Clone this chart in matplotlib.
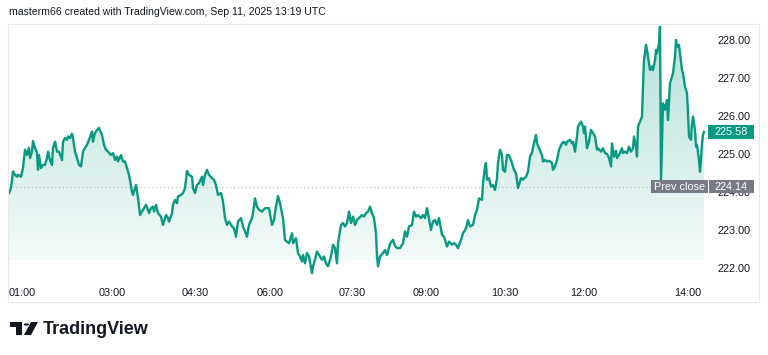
#!/usr/bin/env python3
"""
Intraday area chart, TradingView style (Sep 11, 2025 session).
"""

import numpy as np
import matplotlib
matplotlib.use('Agg')
import matplotlib.pyplot as plt
from matplotlib.patches import Polygon, Rectangle, Circle
from matplotlib.colors import LinearSegmentedColormap
from matplotlib import transforms

plt.rcParams['font.family'] = ['Liberation Sans', 'DejaVu Sans']

# ---- data (bar position, price) ----
bar = [
    9, 11, 13, 15, 17, 18, 21, 23, 25, 27,
    29, 30, 32, 33, 35, 37, 38, 39, 41, 43,
    45, 47, 48, 50, 52, 53, 55, 57, 59, 62,
    63, 65, 67, 68, 70, 72, 73, 75, 77, 79,
    81, 83, 85, 87, 89, 92, 93, 95, 97, 99,
    102, 104, 106, 108, 111, 113, 115, 117, 118, 121,
    123, 125, 127, 129, 132, 133, 136, 138, 140,
    142, 144, 146, 148, 149, 151, 153, 154, 156, 158,
    161, 163, 166, 168, 169, 172, 173, 175, 177, 178,
    181, 183, 185, 187, 189, 192, 193, 195, 197, 199,
    202, 203, 205, 207, 209, 212, 214, 216, 218, 221,
    223, 225, 227, 229, 232, 234, 236, 238, 241, 243,
    245, 247, 249, 252, 253, 255, 257, 259, 262, 265,
    269,
    272, 274, 276, 278, 280, 283, 285, 287, 289, 292,
    293, 296, 298, 300, 302, 303, 305, 307, 309, 312,
    313, 315, 317, 319, 322, 324, 326, 328, 331, 333,
    335, 337, 338, 341, 343, 345, 347, 349, 351, 353,
    355, 357, 359, 362, 364, 366, 368, 370, 372, 374,
    376, 377, 378, 380, 383, 385, 387, 390, 393, 395,
    397, 400,
    403, 405, 407, 409, 412, 414, 416, 418, 421, 423,
    425, 427, 428, 431, 433, 435, 437, 439, 442, 444,
    447, 449, 452, 454, 456, 458, 461, 463, 466, 468,
    470, 473, 475, 477, 479, 482, 483, 485, 486, 487,
    489, 491, 493, 495, 497, 498, 500, 502, 503, 505,
    507, 509, 512, 514, 516, 518, 521, 523, 526, 528,
    530,
    532, 534, 536, 537, 539, 542, 543, 545, 547, 549,
    552, 553, 555, 557, 559, 562, 564, 566, 567, 570,
    572, 573, 575, 577, 578, 581, 583, 584, 585, 587,
    589, 591, 593, 595, 597, 598, 601, 603, 605, 607,
    609, 611, 612, 614, 616, 617, 619, 622, 623, 625,
    627, 629, 631, 633, 634, 636, 637, 638, 640, 642,
    643, 644, 645, 646, 647, 649, 650, 652, 653, 655,
    656, 657, 659, 660, 661, 663, 665, 667, 668, 670,
    672, 673, 675, 676, 677, 679, 680, 682, 683, 685,
    687, 688, 689, 691, 692, 693, 695, 696, 697, 699,
    700, 701, 702, 703, 704,
]
price = [
    223.97, 224.11, 224.54, 224.45, 224.40, 224.45, 224.40, 224.63, 225.11, 224.97,
    225.16, 224.89, 225.06, 225.34, 225.16, 225.03, 224.58, 224.97, 224.63, 224.71,
    224.71, 224.89, 225.06, 224.84, 224.71, 225.16, 225.32, 225.06, 225.06, 224.84,
    225.32, 225.42, 225.37, 225.46, 225.42, 225.53, 225.42, 225.06, 224.89, 224.71,
    224.67, 225.06, 225.16, 225.24, 225.37, 225.59, 225.32, 225.55, 225.63, 225.68,
    225.50, 225.24, 225.11, 225.06, 224.97, 225.02, 224.84, 224.93, 224.80, 224.97,
    224.80, 224.80, 224.62, 224.45, 224.01, 223.92, 224.18, 223.84, 223.39,
    223.48, 223.57, 223.66, 223.53, 223.44, 223.57, 223.61, 223.48, 223.66, 223.44,
    223.35, 223.13, 223.39, 223.31, 223.22, 223.44, 223.66, 223.79, 223.70, 223.88,
    223.92, 223.97, 224.10, 224.55, 224.45, 224.40, 224.10, 223.97, 224.18, 224.23,
    224.40, 224.18, 224.45, 224.58, 224.45, 224.36, 224.32, 224.18, 223.92, 223.97,
    223.75, 223.31, 223.13, 223.22, 223.09, 223.04, 222.82, 223.22, 223.31, 223.09,
    222.96, 222.82, 223.13, 223.31, 223.44, 223.83, 223.61, 223.53, 223.48, 223.57,
    223.57,
    223.13, 223.26, 223.61, 223.89, 223.70, 223.31, 222.74, 222.69, 222.65, 222.91,
    222.65, 222.78, 222.39, 222.30, 222.17, 222.34, 222.12, 222.39, 222.30, 221.86,
    222.04, 222.21, 222.43, 222.34, 222.21, 222.30, 222.12, 222.04, 222.30, 222.61,
    222.52, 222.12, 222.65, 223.13, 223.18, 223.09, 223.18, 223.48, 223.18, 223.35,
    223.13, 223.26, 223.31, 223.39, 223.35, 223.44, 223.48, 223.61, 223.44, 223.31,
    222.91, 222.30, 222.04, 222.30, 222.39, 222.47, 222.34, 222.63, 222.74, 222.58,
    222.52, 222.52,
    222.65, 222.96, 222.82, 223.09, 223.13, 223.48, 223.35, 223.39, 223.31, 223.39,
    223.31, 223.57, 223.44, 223.00, 223.22, 223.26, 223.13, 223.31, 222.87, 222.82,
    222.56, 222.69, 222.61, 222.65, 222.61, 222.52, 222.74, 222.91, 223.04, 223.26,
    223.09, 223.13, 223.39, 223.53, 223.83, 223.79, 224.23, 224.67, 224.76, 224.32,
    224.36, 224.14, 224.18, 224.05, 224.36, 224.76, 225.11, 224.97, 224.58, 224.53,
    224.97, 224.97, 224.76, 224.58, 224.49, 224.10, 224.36, 224.32, 224.40, 224.53,
    224.93,
    225.03, 225.29, 225.50, 225.28, 225.15, 224.97, 224.80, 224.84, 224.80, 224.82,
    224.76, 224.58, 224.67, 224.84, 225.11, 225.28, 225.32, 225.24, 225.32, 225.37,
    225.28, 225.32, 225.06, 225.46, 225.72, 225.85, 225.72, 225.55, 225.72, 225.15,
    225.32, 225.63, 225.55, 225.46, 225.11, 225.15, 225.06, 225.15, 225.02, 225.00,
    224.89, 224.67, 225.28, 224.93, 225.08, 224.89, 224.97, 225.15, 225.02, 225.06,
    225.02, 225.19, 225.06, 225.15, 225.46, 225.19, 224.93, 225.72, 225.85, 225.98,
    226.77, 227.47, 227.65, 227.87, 227.74, 227.39, 227.21, 227.30, 227.21, 227.47,
    227.74, 227.65, 227.91, 228.35, 224.27, 226.33, 226.16, 226.42, 225.89, 226.86,
    227.03, 227.12, 227.56, 228.00, 227.82, 227.87, 227.65, 227.21, 227.12, 226.77,
    226.60, 226.07, 225.46, 225.37, 225.81, 225.98, 225.63, 225.19, 225.24, 224.84,
    224.53, 224.84, 225.28, 225.50, 225.58,
]
assert len(bar) == len(price)

prev_close = 224.14
last_price = 225.58
fill_base = 222.2

time_ticks = [22, 112, 195, 270, 352, 426, 505, 584, 688]
time_labels = ['01:00', '03:00', '04:30', '06:00', '07:30', '09:00',
               '10:30', '12:00', '14:00']
price_ticks = [222, 223, 224, 225, 226, 227, 228]

header = 'masterm66 created with TradingView.com, Sep 11, 2025 13:19 UTC'

# ---- style ----
W, H = 768, 355
GREEN = '#089981'
GREY = '#787b86'
TEXT = '#131722'


def fx(x):
    return x / W


def fy(y):
    return 1 - y / H


fig = plt.figure(figsize=(W / 100, H / 100), dpi=100)
fig.patch.set_facecolor('white')
ax = fig.add_axes([fx(8), fy(280), fx(712 - 8), (280 - 24) / H])

# gradient area under the line
verts = [(bar[0], fill_base)] + list(zip(bar, price)) + [(bar[-1], fill_base)]
area = Polygon(verts, closed=True, facecolor='none', edgecolor='none')
ax.add_patch(area)
cmap = LinearSegmentedColormap.from_list(
    'tvfill', [(8 / 255, 153 / 255, 129 / 255, 0.05),
               (8 / 255, 153 / 255, 129 / 255, 0.30)])
grad = np.linspace(0, 1, 256).reshape(-1, 1)
im = ax.imshow(grad, extent=[bar[0], bar[-1], fill_base, max(price)],
               origin='lower', aspect='auto', cmap=cmap, zorder=1)
im.set_clip_path(area)

ax.plot(bar, price, color=GREEN, lw=1.7, zorder=3, solid_joinstyle='round')

# previous close dotted line
ax.plot([8, 651], [prev_close, prev_close], color='#b2b5be', lw=0.8,
        linestyle=(0, (1, 2.5)), zorder=2)

ax.set_xlim(8, 712)
ax.set_ylim(221.68, 228.42)

ax.yaxis.tick_right()
ax.set_yticks(price_ticks)
ax.set_yticklabels([f'{v:.2f}' for v in price_ticks])
ax.set_xticks(time_ticks)
ax.set_xticklabels(time_labels)
ax.tick_params(axis='both', length=0, labelsize=7.8, colors=TEXT)
ax.tick_params(axis='y', pad=4)
ax.tick_params(axis='x', pad=6)
for s in ax.spines.values():
    s.set_visible(False)
ax.set_facecolor('none')

# chart frame
fig.add_artist(Rectangle((fx(8), fy(302)), fx(759 - 8), (302 - 24) / H,
                         transform=fig.transFigure, facecolor='none',
                         edgecolor='#e6e8ee', lw=0.8))

# price labels on the scale
tr = transforms.blended_transform_factory(fig.transFigure, ax.transData)
box_h = 13.5 / 38


def price_box(x0, x1, y, color, label):
    ax.add_patch(Rectangle((fx(x0), y - box_h / 2), fx(x1 - x0), box_h,
                           transform=tr, facecolor=color, edgecolor='none',
                           clip_on=False, zorder=5))
    ax.text(fx((x0 + x1) / 2), y, label, transform=tr, ha='center',
            va='center', color='white', fontsize=7.8, zorder=6)


price_box(708, 754, last_price, GREEN, f'{last_price:.2f}')
price_box(651, 708, prev_close, GREY, 'Prev close')
price_box(709, 754, prev_close, GREY, f'{prev_close:.2f}')

# header
fig.text(fx(9), fy(12), header, fontsize=7.6, color=TEXT, ha='left', va='center')

# logo
logo = [
    Polygon([(fx(10), fy(322)), (fx(22), fy(322)), (fx(22), fy(335)),
             (fx(16), fy(335)), (fx(16), fy(327)), (fx(10), fy(327))],
            closed=True, transform=fig.transFigure, facecolor='#131722'),
    Circle((fx(26.5), fy(324.5)), 2.6 / W, transform=fig.transFigure,
           facecolor='#131722'),
    Polygon([(fx(31), fy(322)), (fx(38), fy(322)), (fx(31), fy(335)),
             (fx(24), fy(335))],
            closed=True, transform=fig.transFigure, facecolor='#131722'),
]
for p in logo:
    fig.add_artist(p)
fig.text(fx(43), fy(329), 'TradingView', fontsize=13, color='#131722',
         ha='left', va='center', fontweight='bold')

fig.savefig('out.png', dpi=100)
